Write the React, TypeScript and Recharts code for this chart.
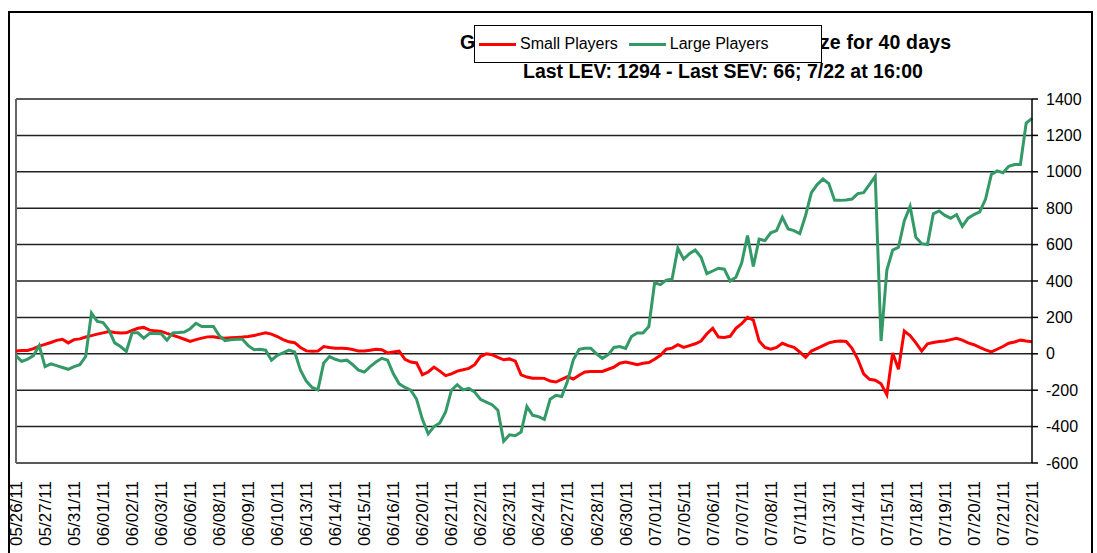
import React from "react";
import { LineChart, Line, XAxis, YAxis, CartesianGrid, Legend, ReferenceLine } from "recharts";

const FONT = "Arial, 'Liberation Sans', sans-serif";

// one label every 5 points, same as the excel sheet (dates repeat where a day had more data)
const dateLabels = [
  "05/26/11", "05/27/11", "05/31/11", "06/01/11", "06/02/11", "06/03/11", "06/06/11", "06/08/11", "06/09/11",
  "06/10/11", "06/13/11", "06/14/11", "06/15/11", "06/16/11", "06/20/11", "06/21/11", "06/22/11", "06/23/11",
  "06/24/11", "06/27/11", "06/28/11", "06/30/11", "07/01/11", "07/05/11", "07/06/11", "07/07/11", "07/08/11",
  "07/11/11", "07/13/11", "07/14/11", "07/15/11", "07/18/11", "07/19/11", "07/20/11", "07/21/11", "07/22/11",
];

const smallPlayers = [
  15, 18, 18, 28, 42, 52, 62, 74, 80, 60,
  78, 82, 92, 100, 108, 115, 122, 117, 114, 115,
  128, 140, 145, 130, 126, 123, 112, 102, 92, 80,
  68, 78, 86, 93, 94, 88, 86, 88, 90, 92,
  95, 100, 108, 116, 108, 95, 78, 66, 61, 35,
  16, 14, 15, 40, 35, 31, 31, 29, 24, 15,
  16, 20, 25, 22, 5, 10, 15, -30, -45, -50,
  -115, -100, -73, -95, -120, -110, -95, -88, -80, -60,
  -15, 0, -5, -20, -33, -28, -40, -116, -128, -134,
  -134, -135, -150, -155, -140, -125, -139, -118, -100, -97,
  -97, -97, -85, -73, -52, -45, -52, -60, -52, -48,
  -30, -8, 25, 31, 50, 35, 45, 55, 70, 110,
  140, 92, 90, 96, 140, 165, 200, 185, 70, 35,
  25, 35, 58, 45, 35, 10, -20, 15, 30, 45,
  60, 68, 70, 68, 30, -30, -110, -140, -145, -165,
  -225, 5, -85, 125, 100, 60, 15, 55, 62, 68,
  70, 78, 85, 75, 60, 50, 35, 22, 10, 25,
  40, 58, 65, 75, 70, 66,
];

const largePlayers = [
  -10, -42, -30, -10, 45, -70, -55, -65, -75, -85,
  -70, -60, -15, 224, 178, 172, 130, 60, 40, 13,
  115, 115, 86, 112, 112, 110, 75, 115, 117, 120,
  138, 168, 150, 150, 150, 100, 72, 77, 80, 80,
  45, 22, 25, 20, -35, -8, 5, 20, 10, -90,
  -150, -185, -198, -50, -15, -30, -40, -35, -60, -90,
  -100, -70, -45, -25, -35, -110, -165, -185, -200, -250,
  -360, -440, -400, -380, -320, -200, -170, -198, -190, -210,
  -250, -265, -280, -310, -480, -445, -450, -430, -290, -338,
  -345, -360, -250, -228, -235, -150, -33, 25, 31, 31,
  0, -25, -5, 35, 40, 30, 95, 114, 114, 150,
  390, 380, 405, 410, 580, 520, 550, 570, 530, 440,
  455, 470, 465, 400, 420, 500, 650, 480, 630, 622,
  665, 677, 750, 686, 677, 660, 760, 885, 930, 960,
  935, 843, 843, 845, 850, 880, 885, 930, 975, 70,
  460, 570, 585, 730, 810, 640, 605, 600, 769, 785,
  760, 745, 765, 700, 745, 765, 780, 850, 985, 1005,
  995, 1030, 1040, 1040, 1268, 1294,
];

const yTicks = [-600, -400, -200, 0, 200, 400, 600, 800, 1000, 1200, 1400];
const seriesNames = ["Small Players", "Large Players"];
const titleLine1 = "Gold Exposure Normalized to Trade Size for 40 days";
const titleLine2 = "Last LEV: 1294 - Last SEV: 66; 7/22 at 16:00";

const POINTS_PER_LABEL = 5;

const data = smallPlayers.map((v, i) => ({ i, small: v, large: largePlayers[i] }));
const xTicks = dateLabels.map((_, k) => k * POINTS_PER_LABEL);

function DateTick(props: any) {
  const { x, y, payload } = props;
  const label = dateLabels[Math.round(payload.value / POINTS_PER_LABEL)];
  return (
    <g transform={`translate(${x},${y + 10})`}>
      <text transform="rotate(-90)" textAnchor="end" dy="0.35em" fontSize={17} fill="#000" fontFamily={FONT}>
        {label}
      </text>
    </g>
  );
}

const renderLegend = (props: any) => (
  <div
    style={{
      boxSizing: "border-box",
      width: 348,
      height: 38,
      border: "1.5px solid #000",
      background: "#fff",
      display: "flex",
      alignItems: "center",
      fontFamily: FONT,
      fontSize: 16,
      color: "#000",
    }}
  >
    {(props.payload || []).map((p: any, k: number) => (
      <span key={p.value} style={{ display: "flex", alignItems: "center", marginLeft: k === 0 ? 4 : 11 }}>
        <span style={{ display: "inline-block", width: 37, height: 3, background: p.color, marginRight: 4 }} />
        {p.value}
      </span>
    ))}
  </div>
);

export default function App() {
  return (
    <div style={{ position: "fixed", left: 0, top: 0, width: 1097, height: 553, overflow: "hidden", background: "#fff" }}>
      {/* outer chart frame */}
      <div
        style={{
          position: "absolute",
          left: 8,
          top: 11,
          width: 1085,
          height: 600,
          border: "2px solid #000",
          boxSizing: "border-box",
        }}
      />
      <svg width={1097} height={100} style={{ position: "absolute", left: 0, top: 0 }}>
        <text x={460} y={49} textLength={491} lengthAdjust="spacing" fontSize={19.5} fontWeight="bold" fontFamily={FONT} fill="#000">
          {titleLine1}
        </text>
        <text x={723} y={78} textAnchor="middle" fontSize={19.5} fontWeight="bold" fontFamily={FONT} fill="#000">
          {titleLine2}
        </text>
      </svg>
      <div style={{ position: "absolute", left: 0, top: 0 }}>
        <LineChart width={1097} height={553} data={data} margin={{ top: 99, right: 5, bottom: 5, left: 16 }}>
          <CartesianGrid vertical={false} stroke="#222" strokeWidth={1.5} />
          <XAxis
            dataKey="i"
            type="number"
            domain={[0, data.length - 1]}
            ticks={xTicks}
            interval={0}
            height={85}
            tickLine={false}
            axisLine={false}
            tick={<DateTick />}
          />
          <YAxis
            orientation="right"
            width={60}
            domain={[-600, 1400]}
            ticks={yTicks}
            interval={0}
            axisLine={{ stroke: "#000", strokeWidth: 1.5 }}
            tickLine={{ stroke: "#000", strokeWidth: 1.5 }}
            tickSize={6}
            tickMargin={8}
            tick={{ fontSize: 16, fill: "#000", fontFamily: FONT }}
          />
          <ReferenceLine x={0} stroke="#666" strokeWidth={2} />
          <Legend
            layout="horizontal"
            verticalAlign="middle"
            align="center"
            itemSorter={(item: any) => seriesNames.indexOf(item.value)}
            wrapperStyle={{ left: 474, top: 25, width: 348, height: 38 }}
            content={renderLegend}
          />
          <Line
            type="linear"
            dataKey="small"
            name={seriesNames[0]}
            stroke="#ff0000"
            strokeWidth={3}
            dot={false}
            isAnimationActive={false}
          />
          <Line
            type="linear"
            dataKey="large"
            name={seriesNames[1]}
            stroke="#339966"
            strokeWidth={3}
            dot={false}
            isAnimationActive={false}
          />
        </LineChart>
      </div>
    </div>
  );
}
